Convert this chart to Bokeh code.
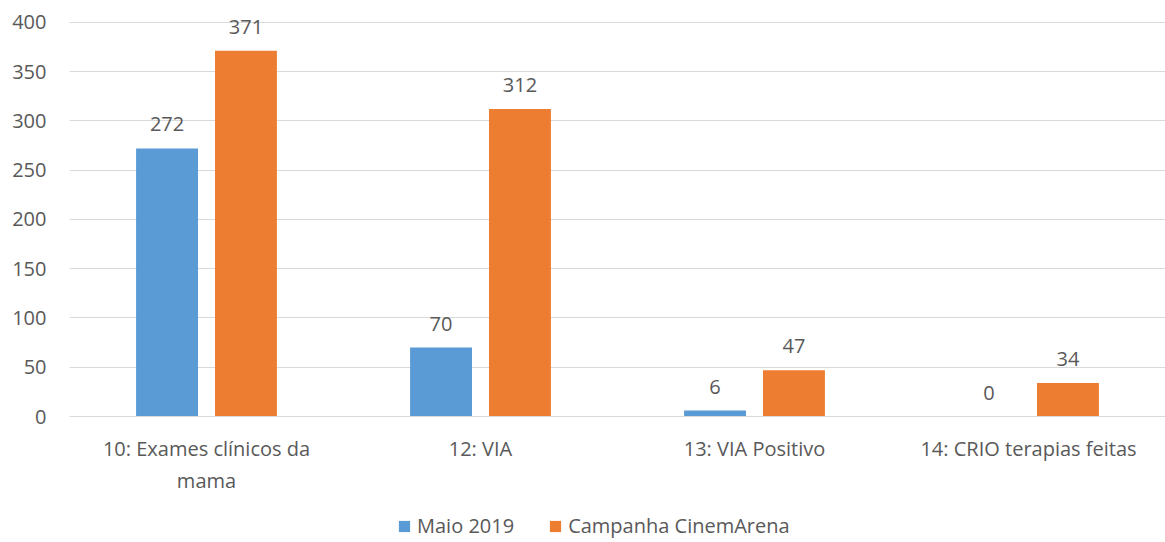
from bokeh.plotting import figure
from bokeh.layouts import column
from bokeh.models import ColumnDataSource, Legend, LegendItem, FactorRange, Range1d
from bokeh.transform import dodge
from bokeh.embed import file_html
from bokeh.resources import INLINE
from bokeh.core.properties import value

categories = ["10: Exames clínicos da\nmama", "12: VIA", "13: VIA Positivo", "14: CRIO terapias feitas"]
series_names = ["Maio 2019", "Campanha CinemArena"]
maio = [272, 70, 6, 0]
campanha = [371, 312, 47, 34]
y_ticks = [0, 50, 100, 150, 200, 250, 300, 350, 400]

FONT = "Open Sans"
FS = "20px"
TXT = "#595959"
BLUE = "#5B9BD5"
ORANGE = "#ED7D31"

src = ColumnDataSource(data=dict(
    cat=categories,
    maio=maio,
    campanha=campanha,
    maio_lbl=[str(v) for v in maio],
    camp_lbl=[str(v) for v in campanha],
))

p = figure(x_range=FactorRange(*categories), y_range=Range1d(0, 420),
           width=1165, height=508, output_backend="svg", toolbar_location=None,
           min_border_left=69, min_border_right=0, min_border_top=2,
           min_border_bottom=92)
p.outline_line_color = None
p.background_fill_color = "white"

r1 = p.vbar(x=dodge("cat", -0.144, range=p.x_range), top="maio", width=0.226,
            source=src, fill_color=BLUE, line_color=None)
r2 = p.vbar(x=dodge("cat", 0.144, range=p.x_range), top="campanha", width=0.226,
            source=src, fill_color=ORANGE, line_color=None)

for xo, col, lbl in [(-0.144, "maio", "maio_lbl"), (0.144, "campanha", "camp_lbl")]:
    p.text(x=dodge("cat", xo, range=p.x_range), y=col, text=lbl, source=src,
           text_align="center", text_baseline="bottom", y_offset=-17,
           text_font=value(FONT), text_font_size=FS, text_color=TXT)

p.yaxis.ticker = y_ticks
p.yaxis.axis_line_color = None
p.yaxis.major_tick_line_color = None
p.yaxis.minor_tick_line_color = None
p.yaxis.major_tick_out = 0
p.yaxis.major_label_text_font = FONT
p.yaxis.major_label_text_font_size = FS
p.yaxis.major_label_text_color = TXT
p.yaxis.major_label_standoff = 23

p.xaxis.axis_line_color = "#D9D9D9"
p.xaxis.major_tick_line_color = None
p.xaxis.minor_tick_line_color = None
p.xaxis.major_tick_out = 0
p.xaxis.major_tick_in = 0
p.xaxis.major_label_text_font = FONT
p.xaxis.major_label_text_font_size = FS
p.xaxis.major_label_text_color = TXT
p.xaxis.major_label_standoff = 18

p.xgrid.grid_line_color = None
p.ygrid.grid_line_color = "#D9D9D9"
p.ygrid.grid_line_width = 1

# legend strip below the chart (its renderers hold the series but draw nothing visible)
p2 = figure(width=1165, height=34, x_range=Range1d(0, 1), y_range=Range1d(0, 1),
            x_axis_type=None, y_axis_type=None, output_backend="svg",
            toolbar_location=None, min_border=0)
p2.outline_line_color = None
p2.grid.visible = False
lr1 = p2.vbar(x="maio", top="maio", bottom="maio", width=0.01, source=src,
              fill_color=BLUE, line_color=None)
lr2 = p2.vbar(x="campanha", top="campanha", bottom="campanha", width=0.01, source=src,
              fill_color=ORANGE, line_color=None)

legend = Legend(items=[LegendItem(label=series_names[0], renderers=[lr1]),
                       LegendItem(label=series_names[1], renderers=[lr2])],
                orientation="horizontal", location=(328, 3),
                label_text_font=FONT, label_text_font_size=FS, label_text_color=TXT,
                glyph_width=14, glyph_height=14, label_height=20, spacing=34,
                label_standoff=6, padding=0, margin=0,
                border_line_color=None, background_fill_alpha=0)
p2.add_layout(legend, "center")

layout = column(p, p2, spacing=0)
open("out.html", "w").write(file_html(layout, INLINE))
